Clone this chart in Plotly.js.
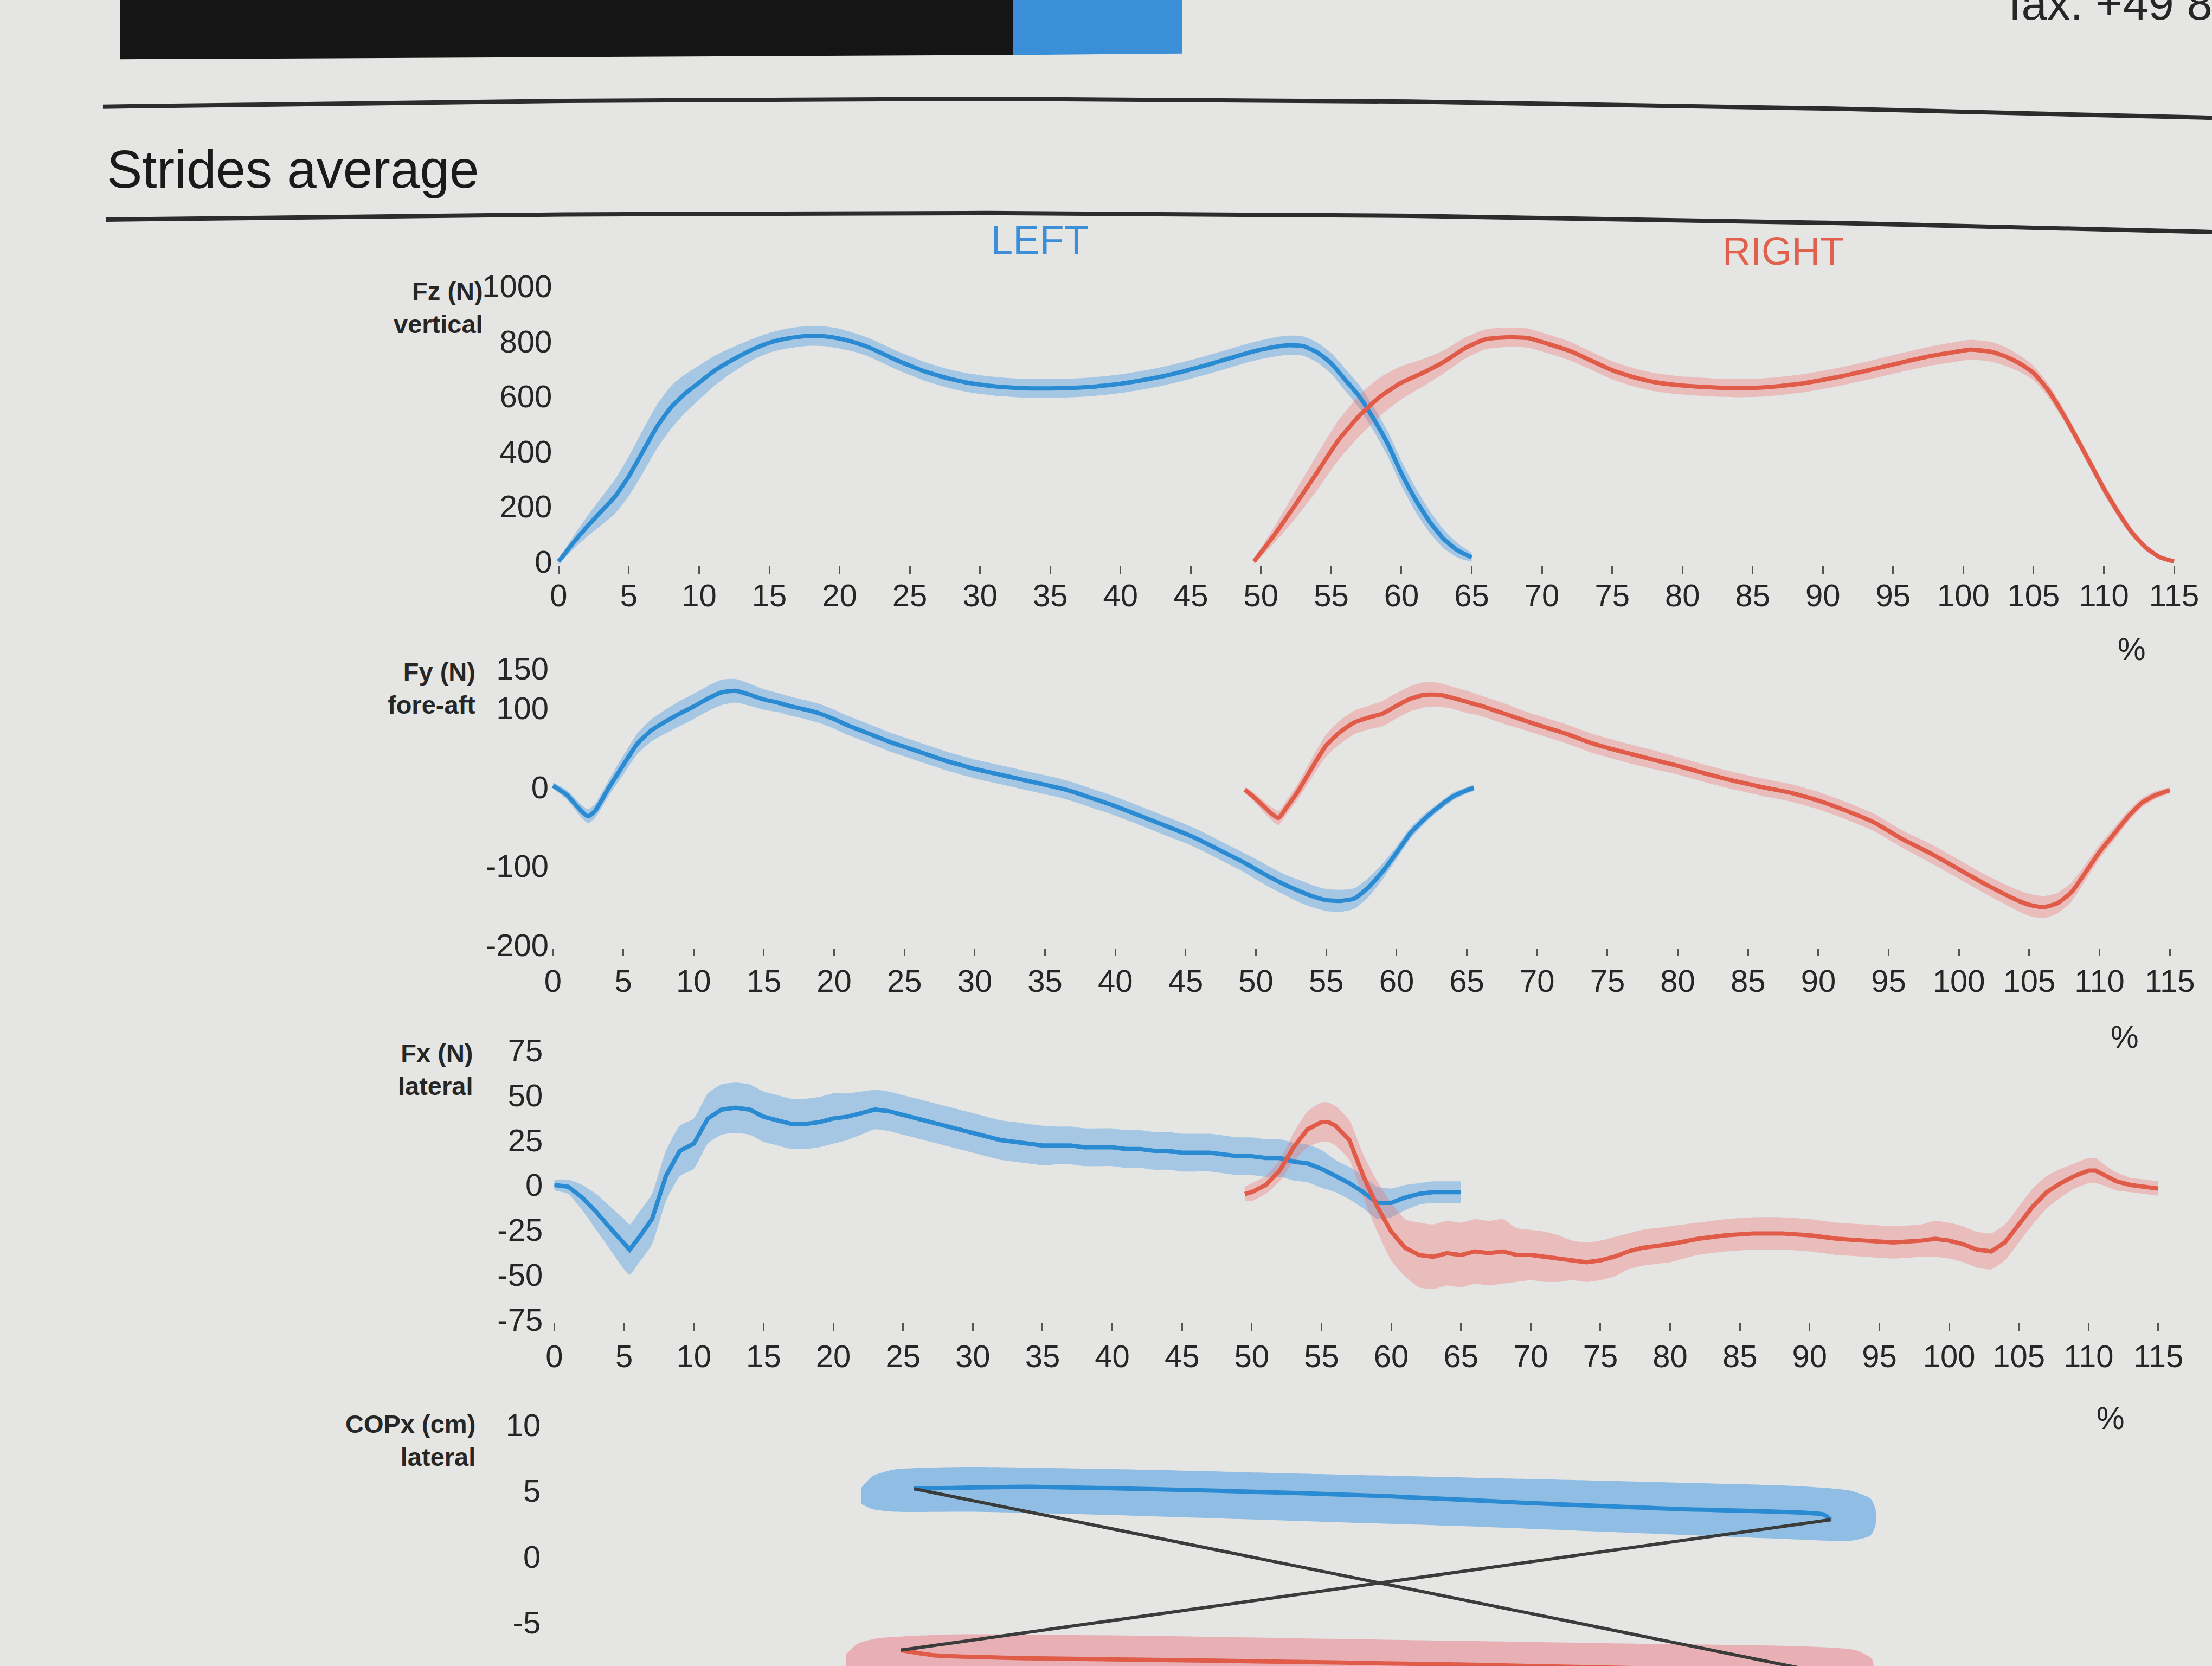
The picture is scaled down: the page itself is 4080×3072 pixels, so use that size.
<!DOCTYPE html>
<html><head><meta charset="utf-8">
<script src="https://cdn.plot.ly/plotly-3.0.1.min.js"></script>
<style>html,body{margin:0;padding:0;background:#e5e5e3;}#chart{width:4080px;height:3072px;}</style>
</head><body><div id="chart"></div>
<script>
// ---------- tick labels ----------
const pctTicks = [0,5,10,15,20,25,30,35,40,45,50,55,60,65,70,75,80,85,90,95,100,105,110,115];
const fzTicks = [0,200,400,600,800,1000];
const fyTicks = [-200,-100,0,100,150];
const fxTicks = [-75,-50,-25,0,25,50,75];
const copTicks = [-5,0,5,10];

// ---------- Fz vertical (N) ----------
const leftFzPct = [0,1,2,3,4,5,6,7,8,9,10,11,12,13,14,15,16,17,18,19,20,21,22,23,24,25,26,27,28,29,30,31,32,33,34,35,36,37,38,39,40,41,42,43,44,45,46,47,48,49,50,51,52,53,54,55,56,57,58,59,60,61,62,63,64,65];
const leftFzN = [0,65,125,180,235,310,400,490,560,610,650,690,722,750,775,795,808,816,820,818,810,797,780,757,733,712,692,676,662,651,643,637,633,630,629,629,630,632,635,640,646,654,663,673,685,698,712,727,742,757,770,780,786,783,760,720,660,600,520,430,320,225,145,82,40,15];
const leftFzSd = [10,22,36,50,62,72,78,80,78,70,62,55,48,42,38,36,36,36,36,36,36,34,34,34,34,34,34,34,34,34,34,34,34,34,34,34,34,34,34,34,34,34,34,34,34,34,34,34,34,34,34,35,35,35,36,38,40,42,44,45,45,44,40,34,26,16];
const rightFzPct = [49.5,51,52.5,54,55.5,57,58.5,60,61.5,63,64.5,66,67.5,69,70.5,72,73.5,75,76.5,78,79.5,81,82.5,84,85.5,87,88.5,90,91.5,93,94.5,96,97.5,99,100.5,102,103,104,105,106,107,108,109,110,111,112,113,114,115];
const rightFzN = [0,100,210,324,440,530,600,650,685,725,775,808,815,812,790,765,730,695,670,652,642,636,632,630,632,638,647,660,675,692,710,728,745,758,770,762,745,720,685,625,545,455,360,265,180,105,50,15,0];
const rightFzSd = [10,30,50,65,72,75,70,60,50,42,38,36,35,35,34,34,33,33,33,33,33,33,33,33,33,33,33,33,33,33,34,34,35,36,36,36,34,30,26,24,22,20,20,20,18,15,12,8,5];

// ---------- Fy fore-aft (N) ----------
const leftFyPct = [0,1,2,2.5,3,4,5,6,7,8,9,10,11,12,13,14,15,16,17,18,19,20,21,22,23,24,25,26,27,28,29,30,31,32,33,34,35,36,37,38,39,40,41,42,43,44,45,46,47,48,49,50,51,52,53,54,55,56,57,58,59,60,61,62,63,64,65,65.5];
const leftFyN = [2,-10,-30,-37,-30,0,28,55,72,83,93,102,112,120,122,117,111,107,102,98,93,86,78,71,64,57,51,45,39,33,28,23,19,15,11,7,3,-1,-6,-12,-18,-24,-31,-38,-45,-52,-59,-67,-76,-85,-94,-104,-114,-123,-131,-138,-143,-144,-141,-127,-107,-83,-58,-40,-25,-12,-4,-1];
const leftFySd = [4,6,8,9,9,10,12,13,14,15,16,16,16,16,15,14,13,12,12,12,12,12,12,12,12,12,12,12,12,12,12,12,12,12,12,12,12,12,12,12,12,12,12,12,12,12,12,12,12,12,12,13,13,13,14,14,14,14,13,12,10,8,7,6,5,5,4,4];
const rightFyPct = [49.2,50,51,51.6,52.2,53,54,55,56,57,58,59,60,61,62,63,64,65,66,67,68,69,70,72,74,76,78,80,82,84,86,88,90,92,94,96,98,100,102,104,105,106,107,108,109,110,111,112,113,114,115];
const rightFyN = [-3,-15,-32,-39,-25,-5,25,53,70,82,88,93,103,112,117,117,113,108,103,97,91,85,79,68,55,45,36,27,17,8,0,-7,-17,-30,-45,-66,-84,-104,-124,-142,-149,-152,-147,-133,-108,-82,-60,-38,-20,-10,-4];
const rightFySd = [4,6,8,9,9,10,12,14,15,15,15,16,16,16,16,15,14,14,13,13,13,12,12,12,12,12,12,11,11,11,11,11,11,11,11,11,12,12,12,13,14,14,13,12,10,9,8,7,6,5,4];

// ---------- Fx lateral (N) ----------
const leftFxPct = [0,1,2,3,4,5,5.4,6,7,8,9,10,11,12,13,14,15,16,17,18,19,20,21,22,23,24,25,26,27,28,29,30,31,32,33,34,35,36,37,38,39,40,41,42,43,44,45,46,47,48,49,50,51,52,53,54,55,56,57,58,59,60,61,62,63,64,65];
const leftFxN = [0,-1,-7,-15,-24,-33,-36,-30,-19,5,19,23,37,42,43,42,38,36,34,34,35,37,38,40,42,41,39,37,35,33,31,29,27,25,24,23,22,22,22,21,21,21,20,20,19,19,18,18,18,17,16,16,15,15,13,12,9,5,1,-4,-10,-10,-7,-5,-4,-4,-4];
const leftFxSd = [3,4,7,10,12,14,14,14,14,14,14,14,14,14,14,14,14,14,14,14,14,14,13,12,11,11,11,11,11,11,11,11,11,11,11,11,11,10.5,10.5,10.5,10.5,10.5,10.5,10.5,10.5,10.5,10.5,10.5,10.5,10.5,10.5,10.5,10.5,10.5,10.5,10.5,10.5,9,9,9,9,8,7,6,6,6,6];
const rightFxPct = [49.5,50,51,52,53,54,55,55.5,56,57,58,59,60,61,62,63,64,65,66,67,68,69,70,71,72,73,74,75,76,77,78,79,80,82,84,86,88,90,92,94,96,98,99,100,101,102,103,104,105,106,107,108,109,110,110.5,111,112,113,114,115];
const rightFxN = [-5,-4,0,8,21,31,35,35,33,25,5,-12,-26,-35,-39,-40,-38,-39,-37,-38,-37,-39,-39,-40,-41,-42,-43,-42,-40,-37,-35,-34,-33,-30,-28,-27,-27,-28,-30,-31,-32,-31,-30,-31,-33,-36,-37,-32,-22,-12,-4,1,5,8,8,6,2,0,-1,-2];
const rightFxSd = [4,5,5,6,8,10,11,11,11,11,12,14,16,16,18,18,18,18,18,18,18,15,14,14,13,11,11,11,11,10,10,10,10,9,9,9,9,9,9,9,9,9,10,10,10,10,10,10,10,10,9,8,7,7,7,6,5,4,4,4];

// ---------- COPx lateral (cm) vs fore-aft position ----------
const copLeftFA = [21.7,28.7,40,50,58.7,68,76.55,77.0];
const copLeftLat = [5.15,5.3,5.0,4.6,4.07,3.6,3.2,2.8];
const copLeftBandFA = [18.5,19.2,20.5,25,35,45,55,65,75,78.2,79.4,79.7];
const copLeftBandHi = [5.2,6.1,6.6,6.8,6.6,6.3,6.0,5.7,5.35,5.0,4.4,3.6];
const copLeftBandLo = [4.0,3.6,3.4,3.4,3.1,2.7,2.3,1.8,1.3,1.2,1.6,2.4];
const copRightFA = [20.9,23,28,40,55,70,76.5];
const copRightLat = [-7.1,-7.5,-7.7,-7.9,-8.2,-8.6,-8.8];
const copRightBandFA = [17.6,18.3,19.5,24,35,45,55,65,75,78.5,79.5];
const copRightBandHi = [-7.4,-6.6,-6.2,-5.9,-6.0,-6.2,-6.4,-6.6,-6.8,-7.1,-7.8];
const copRightBandLo = [-8.6,-9.2,-9.6,-9.8,-9.9,-10,-10.2,-10.4,-10.6,-10.6,-9.8];

// ---------- styling ----------
const FONT = 'Liberation Sans, Arial, sans-serif';
const BLUE = '#2a8ad2', BLUE_BAND = 'rgba(60,150,228,0.38)';
const RED = '#e05c48', RED_BAND = 'rgba(236,110,115,0.34)';
const TXT = '#262626';
// reference layout was measured on a 1568 x 1181 grid
const X = xd => xd / 1568;
const Y = yd => 1 - yd / 1181;

function band(x, m, sd, xa, ya, fill) {
  const hi = m.map((v, i) => v + sd[i]);
  const lo = m.map((v, i) => v - sd[i]);
  return [
    {x: x, y: hi, xaxis: xa, yaxis: ya, mode: 'lines', line: {width: 0, color: fill, shape: 'spline', smoothing: 0.5}, hoverinfo: 'skip', showlegend: false},
    {x: x, y: lo, xaxis: xa, yaxis: ya, mode: 'lines', line: {width: 0, color: fill, shape: 'spline', smoothing: 0.5}, fill: 'tonexty', fillcolor: fill, hoverinfo: 'skip', showlegend: false}
  ];
}
function line(x, y, xa, ya, color, shape) {
  return {x: x, y: y, xaxis: xa, yaxis: ya, mode: 'lines', line: {width: 8, color: color, shape: shape || 'linear', smoothing: 0.5}, showlegend: false};
}
function poly(x, hi, lo, xa, ya, fill) {
  return {x: x.concat(x.slice().reverse()), y: hi.concat(lo.slice().reverse()), xaxis: xa, yaxis: ya,
    mode: 'lines', line: {width: 0, color: fill, shape: 'spline', smoothing: 0.6}, fill: 'toself', fillcolor: fill, hoverinfo: 'skip', showlegend: false};
}

const traces = [].concat(
  band(leftFzPct, leftFzN, leftFzSd, 'x', 'y', BLUE_BAND),
  band(rightFzPct, rightFzN, rightFzSd, 'x', 'y', RED_BAND),
  [line(leftFzPct, leftFzN, 'x', 'y', BLUE, 'spline'), line(rightFzPct, rightFzN, 'x', 'y', RED, 'spline')],
  band(leftFyPct, leftFyN, leftFySd, 'x2', 'y2', BLUE_BAND),
  band(rightFyPct, rightFyN, rightFySd, 'x2', 'y2', RED_BAND),
  [line(leftFyPct, leftFyN, 'x2', 'y2', BLUE, 'spline'), line(rightFyPct, rightFyN, 'x2', 'y2', RED, 'spline')],
  band(leftFxPct, leftFxN, leftFxSd, 'x3', 'y3', BLUE_BAND),
  band(rightFxPct, rightFxN, rightFxSd, 'x3', 'y3', RED_BAND),
  [line(leftFxPct, leftFxN, 'x3', 'y3', BLUE), line(rightFxPct, rightFxN, 'x3', 'y3', RED)],
  [poly(copLeftBandFA, copLeftBandHi, copLeftBandLo, 'x4', 'y4', 'rgba(60,150,228,0.50)'),
   poly(copRightBandFA, copRightBandHi, copRightBandLo, 'x4', 'y4', 'rgba(236,110,125,0.45)'),
   line(copLeftFA, copLeftLat, 'x4', 'y4', BLUE, 'spline'),
   line(copRightFA, copRightLat, 'x4', 'y4', RED, 'spline'),
   {x: [copLeftFA[0], copRightFA[copRightFA.length - 1]], y: [copLeftLat[0], copRightLat[copRightLat.length - 1]],
    xaxis: 'x4', yaxis: 'y4', mode: 'lines', line: {width: 6, color: '#3a3c3c'}, showlegend: false},
   {x: [copLeftFA[copLeftFA.length - 1], copRightFA[0]], y: [copLeftLat[copLeftLat.length - 1], copRightLat[0]],
    xaxis: 'x4', yaxis: 'y4', mode: 'lines', line: {width: 6, color: '#3a3c3c'}, showlegend: false}]
);

const tickFont = {family: FONT, size: 58, color: TXT};
function xax(d0, r0, r1, anchor, standoff) {
  return {domain: [d0, 1], range: [r0, r1], anchor: anchor, tickmode: 'array', tickvals: pctTicks,
    ticktext: pctTicks.map(String),
    ticks: 'outside', ticklen: 14, tickwidth: 3, tickcolor: '#555', showgrid: false, zeroline: false,
    showline: false, tickfont: tickFont, tickangle: 0, ticklabelstandoff: standoff, fixedrange: true};
}
function yax(dom, range, vals, anchor, standoff) {
  return {domain: dom, range: range, anchor: anchor, tickmode: 'array', tickvals: vals, ticktext: vals.map(String), ticks: '',
    showgrid: false, zeroline: false, showline: false, tickfont: tickFont, ticklabelstandoff: standoff, fixedrange: true};
}

const ann = (text, xd, yd, size, opts) => Object.assign({text: text, x: X(xd), y: Y(yd), xref: 'paper', yref: 'paper',
  showarrow: false, font: {family: FONT, size: size, color: TXT}, xanchor: 'center', yanchor: 'middle'}, opts || {});

const layout = {
  width: 4080, height: 3072, margin: {l: 0, r: 0, t: 0, b: 0},
  paper_bgcolor: '#e5e5e3', plot_bgcolor: 'rgba(0,0,0,0)', showlegend: false,
  xaxis: xax(X(391), -0.5, 117.7, 'y', -10),
  yaxis: yax([Y(401), Y(203)], [-15.4, 1000], fzTicks, 'x', -2),
  xaxis2: xax(X(387), -0.5, 118.0, 'y2', -4),
  yaxis2: yax([Y(672), Y(474)], [-203.6, 150], fyTicks, 'x2', -6),
  xaxis3: xax(X(389), -0.4, 118.85, 'y3', -2),
  yaxis3: yax([Y(937.5), Y(743)], [-76.6, 76.2], fxTicks, 'x3', 10),
  xaxis4: {domain: [X(389), 1], range: [-0.34, 100], anchor: 'y4', visible: false, fixedrange: true},
  yaxis4: yax([0, Y(1010)], [-8.3, 10], copTicks, 'x4', 14),
  shapes: [
    {type: 'path', xref: 'paper', yref: 'paper', line: {width: 0}, fillcolor: '#151515',
     path: `M ${X(85)},${Y(0)} L ${X(718)},${Y(0)} L ${X(718)},${Y(39)} L ${X(85)},${Y(42)} Z`},
    {type: 'path', xref: 'paper', yref: 'paper', line: {width: 0}, fillcolor: '#3a8fd8',
     path: `M ${X(718)},${Y(0)} L ${X(838)},${Y(0)} L ${X(838)},${Y(38)} L ${X(718)},${Y(39)} Z`},
    {type: 'path', xref: 'paper', yref: 'paper', line: {width: 8, color: '#2b2d2d'},
     path: `M ${X(73)},${Y(75.6)} L ${X(400)},${Y(71.5)} L ${X(700)},${Y(70)} L ${X(1000)},${Y(72)} L ${X(1300)},${Y(77)} L ${X(1568)},${Y(83.5)}`},
    {type: 'path', xref: 'paper', yref: 'paper', line: {width: 8, color: '#2b2d2d'},
     path: `M ${X(75)},${Y(155.7)} L ${X(400)},${Y(152)} L ${X(700)},${Y(151)} L ${X(1000)},${Y(153)} L ${X(1300)},${Y(158)} L ${X(1568)},${Y(164.5)}`}
  ],
  annotations: [
    ann('fax. +49 8', 1423, 2.5, 85, {xanchor: 'left'}),
    ann('Strides average', 75, 120, 98, {xanchor: 'left', font: {family: FONT, size: 98, color: '#1a1a1a'}}),
    ann('LEFT', 737, 170, 74, {font: {family: FONT, size: 74, color: '#3a8fd6'}}),
    ann('RIGHT', 1264, 178, 72, {font: {family: FONT, size: 72, color: '#e0614e'}}),
    ann('<b>Fz (N)</b><br><b>vertical</b>', 343, 218, 47, {xanchor: 'right', align: 'right'}),
    ann('<b>Fy (N)</b><br><b>fore-aft</b>', 338, 488, 47, {xanchor: 'right', align: 'right'}),
    ann('<b>Fx (N)</b><br><b>lateral</b>', 336, 758, 47, {xanchor: 'right', align: 'right'}),
    ann('<b>COPx (cm)</b><br><b>lateral</b>', 338, 1021, 47, {xanchor: 'right', align: 'right'}),
    ann('%', 1511, 460, 58),
    ann('%', 1506, 735, 58),
    ann('%', 1496, 1005, 58)
  ]
};

Plotly.newPlot('chart', traces, layout, {staticPlot: true, displayModeBar: false});
</script></body></html>
